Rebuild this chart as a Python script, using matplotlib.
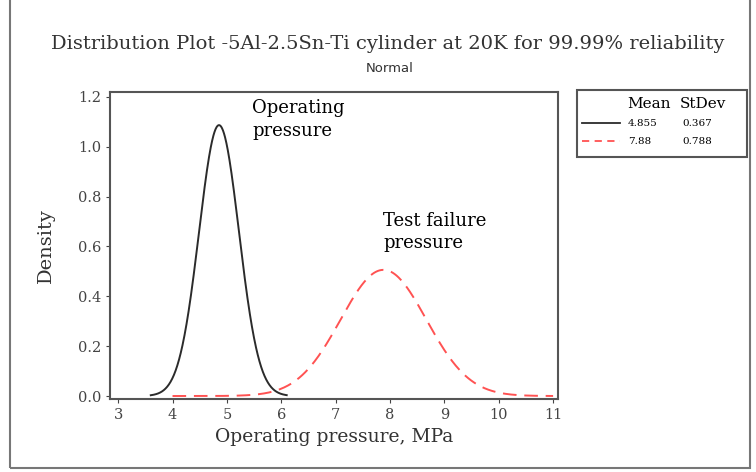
import numpy as np
import matplotlib.pyplot as plt
from matplotlib.patches import Rectangle

# Normal distribution parameters from the legend
labels = ['Operating', 'Test failure']
means = [4.855, 7.88]
stdevs = [0.367, 0.788]
mean_text = ['4.855', '7.88']
stdev_text = ['0.367', '0.788']
x_ranges = [(3.6, 6.1), (4.0, 11.0)]
colors = ['#2b2b2b', '#ff5252']
styles = ['-', '--']

xticks = [3, 4, 5, 6, 7, 8, 9, 10, 11]
yticks = [0.0, 0.2, 0.4, 0.6, 0.8, 1.0, 1.2]


def normal_pdf(x, mu, sigma):
    return np.exp(-0.5 * ((x - mu) / sigma) ** 2) / (sigma * np.sqrt(2 * np.pi))


plt.rcParams['font.family'] = ['DejaVu Serif']

fig = plt.figure(figsize=(7.56, 4.72), dpi=100)
ax = fig.add_axes([110 / 756, 1 - 399 / 472, 448 / 756, 307 / 472])

for mu, sd, rng, c, ls in zip(means, stdevs, x_ranges, colors, styles):
    x = np.linspace(rng[0], rng[1], 400)
    line, = ax.plot(x, normal_pdf(x, mu, sd), color=c, linewidth=1.4)
    if ls == '--':
        line.set_dashes((7, 4))

ax.set_xlim(2.85, 11.09)
ax.set_ylim(-0.012, 1.22)
ax.set_xticks(xticks)
ax.set_yticks(yticks)
ax.set_yticklabels([f'{v:.1f}' for v in yticks])
ax.tick_params(labelsize=10.5, colors='#444444', length=3)
for s in ax.spines.values():
    s.set_color('#555555')
    s.set_linewidth(1.5)

ax.set_xlabel('Operating pressure, MPa', fontsize=13.5, color='#333333', labelpad=4)
ax.set_ylabel('Density', fontsize=14, color='#333333', labelpad=16)

ax.text(5.47, 1.19, 'Operating\npressure', fontsize=13, va='top', ha='left',
        linespacing=1.3)
ax.text(7.87, 0.74, 'Test failure\npressure', fontsize=13, va='top', ha='left',
        linespacing=1.3)

fig.text(388 / 756, 1 - 44 / 472, 'Distribution Plot -5Al-2.5Sn-Ti cylinder at 20K for 99.99% reliability',
         fontsize=14, ha='center', va='center', color='#333333')
fig.text(390 / 756, 1 - 69 / 472, 'Normal', fontsize=9.5, ha='center', va='center',
         family='DejaVu Sans', color='#333333')

# legend box drawn by hand (Minitab style table)
fig.patches.append(Rectangle((577 / 756, 1 - 157 / 472), 170 / 756, 67 / 472,
                             transform=fig.transFigure, fill=False,
                             edgecolor='#555555', linewidth=1.5))
fig.text(627 / 756, 1 - 104 / 472, 'Mean', fontsize=11, ha='left', va='center')
fig.text(680 / 756, 1 - 104 / 472, 'StDev', fontsize=11, ha='left', va='center')
for i in range(len(means)):
    yy = 1 - (123 + 18 * i) / 472
    ls = '-' if styles[i] == '-' else (0, (4, 3))
    fig.add_artist(plt.Line2D([582 / 756, 620 / 756], [yy, yy], transform=fig.transFigure,
                              color=colors[i], linestyle=ls, linewidth=1.3))
    fig.text(628 / 756, yy, mean_text[i], fontsize=7.5, ha='left', va='center')
    fig.text(682 / 756, yy, stdev_text[i], fontsize=7.5, ha='left', va='center')

# outer frame
fig.patches.append(Rectangle((10 / 756, 4 / 472), 740 / 756, 480 / 472,
                             transform=fig.transFigure, fill=False,
                             edgecolor='#777777', linewidth=1.5))

fig.savefig('out.png', dpi=100)
